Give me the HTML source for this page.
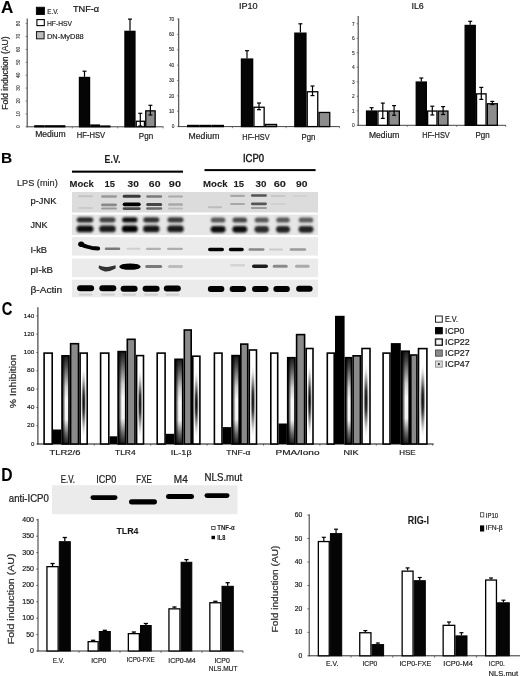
<!DOCTYPE html><html><head><meta charset="utf-8"><style>html,body{margin:0;padding:0;background:#fff;}svg{display:block;filter:grayscale(1);}text{font-family:"Liberation Sans",sans-serif;paint-order:stroke;stroke:currentColor;}</style></head><body>
<svg width="520" height="676" viewBox="0 0 520 676">
<defs>
<filter id="bl1" x="-30%" y="-100%" width="160%" height="300%"><feGaussianBlur stdDeviation="0.9"/></filter>
<filter id="bl2" x="-30%" y="-100%" width="160%" height="300%"><feGaussianBlur stdDeviation="1.3"/></filter>
<filter id="bl05" x="-30%" y="-100%" width="160%" height="300%"><feGaussianBlur stdDeviation="0.75"/></filter>
<radialGradient id="g22" cx="0.74" cy="0.57" r="0.6" fx="0.74" fy="0.57">
 <stop offset="0" stop-color="#ffffff"/><stop offset="0.38" stop-color="#f8f8f8"/><stop offset="0.72" stop-color="#7a7a7a"/><stop offset="0.9" stop-color="#2a2a2a"/><stop offset="1" stop-color="#0a0a0a"/></radialGradient>
<linearGradient id="g22v" x1="0" y1="0" x2="0" y2="1">
 <stop offset="0" stop-color="#1a1a1a"/><stop offset="0.12" stop-color="#505050"/><stop offset="0.35" stop-color="#d0d0d0"/><stop offset="0.5" stop-color="#fafafa"/><stop offset="0.72" stop-color="#f4f4f4"/><stop offset="0.88" stop-color="#6a6a6a"/><stop offset="1" stop-color="#1a1a1a"/></linearGradient>
<linearGradient id="g22h" x1="0" y1="0" x2="1" y2="0">
 <stop offset="0" stop-color="#000" stop-opacity="0.95"/><stop offset="0.2" stop-color="#000" stop-opacity="0.6"/><stop offset="0.5" stop-color="#000" stop-opacity="0.0"/><stop offset="1" stop-color="#000" stop-opacity="0"/></linearGradient>
<radialGradient id="g47" cx="0.5" cy="0.5" r="0.5">
 <stop offset="0" stop-color="#0a0a0a"/><stop offset="0.3" stop-color="#333"/><stop offset="0.65" stop-color="#aaa" stop-opacity="0.8"/><stop offset="1" stop-color="#ffffff" stop-opacity="0"/></radialGradient>
</defs>
<rect width="520" height="676" fill="#fff"/>
<text x="1" y="12.8" font-size="16" font-weight="bold" text-anchor="start" fill="#000" stroke="#000" stroke-width="0.08" textLength="12.3" lengthAdjust="spacingAndGlyphs" >A</text>
<line x1="27.20" y1="18.50" x2="27.20" y2="127.30" stroke="#444" stroke-width="1.1" />
<line x1="26.70" y1="126.80" x2="163.40" y2="126.80" stroke="#444" stroke-width="1.0" />
<line x1="25.60" y1="126.80" x2="27.20" y2="126.80" stroke="#555" stroke-width="0.7" />
<text x="18.9" y="126.8" font-size="4.6" font-weight="normal" text-anchor="middle" fill="#333" stroke="#333" stroke-width="0.101" transform="rotate(-90 18.9 126.8)" dominant-baseline="central">0</text>
<line x1="25.60" y1="113.90" x2="27.20" y2="113.90" stroke="#555" stroke-width="0.7" />
<text x="18.9" y="113.89999999999999" font-size="4.6" font-weight="normal" text-anchor="middle" fill="#333" stroke="#333" stroke-width="0.101" transform="rotate(-90 18.9 113.89999999999999)" dominant-baseline="central">10</text>
<line x1="25.60" y1="101.00" x2="27.20" y2="101.00" stroke="#555" stroke-width="0.7" />
<text x="18.9" y="101.0" font-size="4.6" font-weight="normal" text-anchor="middle" fill="#333" stroke="#333" stroke-width="0.101" transform="rotate(-90 18.9 101.0)" dominant-baseline="central">20</text>
<line x1="25.60" y1="88.10" x2="27.20" y2="88.10" stroke="#555" stroke-width="0.7" />
<text x="18.9" y="88.1" font-size="4.6" font-weight="normal" text-anchor="middle" fill="#333" stroke="#333" stroke-width="0.101" transform="rotate(-90 18.9 88.1)" dominant-baseline="central">30</text>
<line x1="25.60" y1="75.20" x2="27.20" y2="75.20" stroke="#555" stroke-width="0.7" />
<text x="18.9" y="75.19999999999999" font-size="4.6" font-weight="normal" text-anchor="middle" fill="#333" stroke="#333" stroke-width="0.101" transform="rotate(-90 18.9 75.19999999999999)" dominant-baseline="central">40</text>
<line x1="25.60" y1="62.30" x2="27.20" y2="62.30" stroke="#555" stroke-width="0.7" />
<text x="18.9" y="62.3" font-size="4.6" font-weight="normal" text-anchor="middle" fill="#333" stroke="#333" stroke-width="0.101" transform="rotate(-90 18.9 62.3)" dominant-baseline="central">50</text>
<line x1="25.60" y1="49.40" x2="27.20" y2="49.40" stroke="#555" stroke-width="0.7" />
<text x="18.9" y="49.39999999999999" font-size="4.6" font-weight="normal" text-anchor="middle" fill="#333" stroke="#333" stroke-width="0.101" transform="rotate(-90 18.9 49.39999999999999)" dominant-baseline="central">60</text>
<line x1="25.60" y1="36.50" x2="27.20" y2="36.50" stroke="#555" stroke-width="0.7" />
<text x="18.9" y="36.5" font-size="4.6" font-weight="normal" text-anchor="middle" fill="#333" stroke="#333" stroke-width="0.101" transform="rotate(-90 18.9 36.5)" dominant-baseline="central">70</text>
<line x1="25.60" y1="23.60" x2="27.20" y2="23.60" stroke="#555" stroke-width="0.7" />
<text x="18.9" y="23.599999999999994" font-size="4.6" font-weight="normal" text-anchor="middle" fill="#333" stroke="#333" stroke-width="0.101" transform="rotate(-90 18.9 23.599999999999994)" dominant-baseline="central">80</text>
<line x1="72.30" y1="126.80" x2="72.30" y2="128.40" stroke="#555" stroke-width="0.7" />
<line x1="117.70" y1="126.80" x2="117.70" y2="128.40" stroke="#555" stroke-width="0.7" />
<line x1="163.20" y1="126.80" x2="163.20" y2="128.40" stroke="#555" stroke-width="0.7" />
<rect x="34.85" y="125.85" width="9.10" height="0.95" fill="#050505" stroke="#000" stroke-width="1.3"/>
<rect x="45.25" y="125.85" width="9.10" height="0.95" fill="#050505" stroke="#000" stroke-width="1.3"/>
<rect x="55.65" y="125.85" width="9.10" height="0.95" fill="#050505" stroke="#000" stroke-width="1.3"/>
<rect x="79.45" y="77.45" width="10.10" height="49.35" fill="#050505" stroke="#000" stroke-width="1.3"/>
<line x1="84.50" y1="71.20" x2="84.50" y2="76.80" stroke="#000" stroke-width="1.2" />
<line x1="82.50" y1="71.20" x2="86.50" y2="71.20" stroke="#000" stroke-width="1.2" />
<rect x="90.85" y="125.05" width="8.60" height="1.75" fill="#050505" stroke="#000" stroke-width="1.3"/>
<rect x="100.75" y="126.05" width="9.10" height="0.75" fill="#050505" stroke="#000" stroke-width="1.3"/>
<rect x="124.95" y="31.35" width="10.00" height="95.45" fill="#050505" stroke="#000" stroke-width="1.3"/>
<line x1="130.00" y1="19.10" x2="130.00" y2="30.70" stroke="#000" stroke-width="1.2" />
<line x1="128.00" y1="19.10" x2="132.00" y2="19.10" stroke="#000" stroke-width="1.2" />
<rect x="136.25" y="121.25" width="8.20" height="5.55" fill="#ffffff" stroke="#000" stroke-width="1.3"/>
<line x1="140.30" y1="113.30" x2="140.30" y2="126.00" stroke="#000" stroke-width="1.2" />
<line x1="138.30" y1="113.30" x2="142.30" y2="113.30" stroke="#000" stroke-width="1.2" />
<line x1="138.30" y1="126.00" x2="142.30" y2="126.00" stroke="#000" stroke-width="1.2" />
<rect x="145.75" y="110.85" width="9.40" height="15.95" fill="#8c8c8c" stroke="#000" stroke-width="1.3"/>
<line x1="150.40" y1="105.30" x2="150.40" y2="115.00" stroke="#000" stroke-width="1.2" />
<line x1="148.40" y1="105.30" x2="152.40" y2="105.30" stroke="#000" stroke-width="1.2" />
<line x1="148.40" y1="115.00" x2="152.40" y2="115.00" stroke="#000" stroke-width="1.2" />
<text x="50.4" y="136.7" font-size="8.2" font-weight="normal" text-anchor="middle" fill="#222" stroke="#222" stroke-width="0.18" textLength="30.5" lengthAdjust="spacingAndGlyphs" >Medium</text>
<text x="90.9" y="137.5" font-size="8.2" font-weight="normal" text-anchor="middle" fill="#222" stroke="#222" stroke-width="0.18" textLength="28.3" lengthAdjust="spacingAndGlyphs" >HF-HSV</text>
<text x="146.0" y="138.8" font-size="8.2" font-weight="normal" text-anchor="middle" fill="#222" stroke="#222" stroke-width="0.18" textLength="14.3" lengthAdjust="spacingAndGlyphs" >Pgn</text>
<rect x="36.30" y="7.20" width="8.20" height="7.40" fill="#000" stroke="#000" stroke-width="0.8" />
<rect x="36.90" y="19.60" width="7.40" height="6.00" fill="#fff" stroke="#000" stroke-width="1.1" />
<rect x="36.50" y="31.60" width="7.60" height="7.20" fill="#bdbdbd" stroke="#222" stroke-width="1.1" />
<text x="47.3" y="14.4" font-size="7.8" font-weight="normal" text-anchor="start" fill="#222" stroke="#222" stroke-width="0.172" textLength="11.3" lengthAdjust="spacingAndGlyphs" >E.V.</text>
<text x="47.0" y="25.7" font-size="7.8" font-weight="normal" text-anchor="start" fill="#222" stroke="#222" stroke-width="0.172" textLength="25.0" lengthAdjust="spacingAndGlyphs" >HF-HSV</text>
<text x="47.0" y="38.5" font-size="7.8" font-weight="normal" text-anchor="start" fill="#222" stroke="#222" stroke-width="0.172" textLength="36.7" lengthAdjust="spacingAndGlyphs" >DN-MyD88</text>
<text x="72.9" y="11.8" font-size="8.2" font-weight="normal" text-anchor="start" fill="#111" stroke="#111" stroke-width="0.18" textLength="26.3" lengthAdjust="spacingAndGlyphs" >TNF-α</text>
<text x="7.6" y="73.1" font-size="8.6" font-weight="normal" text-anchor="middle" fill="#222" stroke="#222" stroke-width="0.189" textLength="73.5" lengthAdjust="spacingAndGlyphs" transform="rotate(-90 7.6 73.1)" >Fold induction (AU)</text>
<line x1="178.70" y1="18.50" x2="178.70" y2="127.10" stroke="#444" stroke-width="1.1" />
<line x1="178.20" y1="126.60" x2="339.70" y2="126.60" stroke="#444" stroke-width="1.0" />
<line x1="177.10" y1="126.60" x2="178.70" y2="126.60" stroke="#555" stroke-width="0.7" />
<text x="174.3" y="128.29999999999998" font-size="4.8" font-weight="normal" text-anchor="end" fill="#333" stroke="#333" stroke-width="0.106" >0</text>
<line x1="177.10" y1="111.23" x2="178.70" y2="111.23" stroke="#555" stroke-width="0.7" />
<text x="174.3" y="112.92999999999999" font-size="4.8" font-weight="normal" text-anchor="end" fill="#333" stroke="#333" stroke-width="0.106" >10</text>
<line x1="177.10" y1="95.86" x2="178.70" y2="95.86" stroke="#555" stroke-width="0.7" />
<text x="174.3" y="97.56" font-size="4.8" font-weight="normal" text-anchor="end" fill="#333" stroke="#333" stroke-width="0.106" >20</text>
<line x1="177.10" y1="80.49" x2="178.70" y2="80.49" stroke="#555" stroke-width="0.7" />
<text x="174.3" y="82.19" font-size="4.8" font-weight="normal" text-anchor="end" fill="#333" stroke="#333" stroke-width="0.106" >30</text>
<line x1="177.10" y1="65.12" x2="178.70" y2="65.12" stroke="#555" stroke-width="0.7" />
<text x="174.3" y="66.82000000000001" font-size="4.8" font-weight="normal" text-anchor="end" fill="#333" stroke="#333" stroke-width="0.106" >40</text>
<line x1="177.10" y1="49.75" x2="178.70" y2="49.75" stroke="#555" stroke-width="0.7" />
<text x="174.3" y="51.45" font-size="4.8" font-weight="normal" text-anchor="end" fill="#333" stroke="#333" stroke-width="0.106" >50</text>
<line x1="177.10" y1="34.38" x2="178.70" y2="34.38" stroke="#555" stroke-width="0.7" />
<text x="174.3" y="36.08" font-size="4.8" font-weight="normal" text-anchor="end" fill="#333" stroke="#333" stroke-width="0.106" >60</text>
<line x1="177.10" y1="19.01" x2="178.70" y2="19.01" stroke="#555" stroke-width="0.7" />
<text x="174.3" y="20.710000000000004" font-size="4.8" font-weight="normal" text-anchor="end" fill="#333" stroke="#333" stroke-width="0.106" >70</text>
<line x1="232.40" y1="126.60" x2="232.40" y2="128.20" stroke="#555" stroke-width="0.7" />
<line x1="286.00" y1="126.60" x2="286.00" y2="128.20" stroke="#555" stroke-width="0.7" />
<line x1="339.50" y1="126.60" x2="339.50" y2="128.20" stroke="#555" stroke-width="0.7" />
<rect x="187.65" y="125.45" width="11.00" height="1.15" fill="#050505" stroke="#000" stroke-width="1.3"/>
<rect x="199.95" y="125.45" width="11.00" height="1.15" fill="#050505" stroke="#000" stroke-width="1.3"/>
<rect x="212.25" y="125.45" width="11.10" height="1.15" fill="#050505" stroke="#000" stroke-width="1.3"/>
<rect x="241.45" y="59.05" width="11.20" height="67.55" fill="#050505" stroke="#000" stroke-width="1.3"/>
<line x1="247.00" y1="50.70" x2="247.00" y2="58.40" stroke="#000" stroke-width="1.2" />
<line x1="245.00" y1="50.70" x2="249.00" y2="50.70" stroke="#000" stroke-width="1.2" />
<rect x="253.95" y="107.25" width="10.20" height="19.35" fill="#ffffff" stroke="#000" stroke-width="1.3"/>
<line x1="259.00" y1="103.00" x2="259.00" y2="109.70" stroke="#000" stroke-width="1.2" />
<line x1="257.00" y1="103.00" x2="261.00" y2="103.00" stroke="#000" stroke-width="1.2" />
<line x1="257.00" y1="109.70" x2="261.00" y2="109.70" stroke="#000" stroke-width="1.2" />
<rect x="265.45" y="124.45" width="11.10" height="2.15" fill="#8c8c8c" stroke="#000" stroke-width="1.3"/>
<rect x="294.85" y="33.15" width="11.10" height="93.45" fill="#050505" stroke="#000" stroke-width="1.3"/>
<line x1="300.40" y1="23.80" x2="300.40" y2="32.50" stroke="#000" stroke-width="1.2" />
<line x1="298.40" y1="23.80" x2="302.40" y2="23.80" stroke="#000" stroke-width="1.2" />
<rect x="307.25" y="91.75" width="10.50" height="34.85" fill="#ffffff" stroke="#000" stroke-width="1.3"/>
<line x1="312.50" y1="86.00" x2="312.50" y2="95.60" stroke="#000" stroke-width="1.2" />
<line x1="310.50" y1="86.00" x2="314.50" y2="86.00" stroke="#000" stroke-width="1.2" />
<line x1="310.50" y1="95.60" x2="314.50" y2="95.60" stroke="#000" stroke-width="1.2" />
<rect x="319.05" y="112.45" width="10.70" height="14.15" fill="#8c8c8c" stroke="#000" stroke-width="1.3"/>
<text x="204.0" y="138.6" font-size="8.2" font-weight="normal" text-anchor="middle" fill="#222" stroke="#222" stroke-width="0.18" textLength="30.8" lengthAdjust="spacingAndGlyphs" >Medium</text>
<text x="256.0" y="139.6" font-size="8.2" font-weight="normal" text-anchor="middle" fill="#222" stroke="#222" stroke-width="0.18" textLength="27.3" lengthAdjust="spacingAndGlyphs" >HF-HSV</text>
<text x="308.5" y="139.8" font-size="8.2" font-weight="normal" text-anchor="middle" fill="#222" stroke="#222" stroke-width="0.18" textLength="13.9" lengthAdjust="spacingAndGlyphs" >Pgn</text>
<text x="238.9" y="9.1" font-size="8.5" font-weight="normal" text-anchor="start" fill="#222" stroke="#222" stroke-width="0.187" textLength="18.8" lengthAdjust="spacingAndGlyphs" >IP10</text>
<line x1="358.20" y1="16.10" x2="358.20" y2="125.80" stroke="#444" stroke-width="1.1" />
<line x1="357.70" y1="125.30" x2="505.90" y2="125.30" stroke="#444" stroke-width="1.0" />
<line x1="356.60" y1="125.30" x2="358.20" y2="125.30" stroke="#555" stroke-width="0.7" />
<text x="354.6" y="127.0" font-size="4.8" font-weight="normal" text-anchor="end" fill="#333" stroke="#333" stroke-width="0.106" >0</text>
<line x1="356.60" y1="110.80" x2="358.20" y2="110.80" stroke="#555" stroke-width="0.7" />
<text x="354.6" y="112.5" font-size="4.8" font-weight="normal" text-anchor="end" fill="#333" stroke="#333" stroke-width="0.106" >1</text>
<line x1="356.60" y1="96.30" x2="358.20" y2="96.30" stroke="#555" stroke-width="0.7" />
<text x="354.6" y="98.0" font-size="4.8" font-weight="normal" text-anchor="end" fill="#333" stroke="#333" stroke-width="0.106" >2</text>
<line x1="356.60" y1="81.80" x2="358.20" y2="81.80" stroke="#555" stroke-width="0.7" />
<text x="354.6" y="83.5" font-size="4.8" font-weight="normal" text-anchor="end" fill="#333" stroke="#333" stroke-width="0.106" >3</text>
<line x1="356.60" y1="67.30" x2="358.20" y2="67.30" stroke="#555" stroke-width="0.7" />
<text x="354.6" y="69.0" font-size="4.8" font-weight="normal" text-anchor="end" fill="#333" stroke="#333" stroke-width="0.106" >4</text>
<line x1="356.60" y1="52.80" x2="358.20" y2="52.80" stroke="#555" stroke-width="0.7" />
<text x="354.6" y="54.5" font-size="4.8" font-weight="normal" text-anchor="end" fill="#333" stroke="#333" stroke-width="0.106" >5</text>
<line x1="356.60" y1="38.30" x2="358.20" y2="38.30" stroke="#555" stroke-width="0.7" />
<text x="354.6" y="40.0" font-size="4.8" font-weight="normal" text-anchor="end" fill="#333" stroke="#333" stroke-width="0.106" >6</text>
<line x1="356.60" y1="23.80" x2="358.20" y2="23.80" stroke="#555" stroke-width="0.7" />
<text x="354.6" y="25.499999999999996" font-size="4.8" font-weight="normal" text-anchor="end" fill="#333" stroke="#333" stroke-width="0.106" >7</text>
<line x1="407.40" y1="125.30" x2="407.40" y2="126.90" stroke="#555" stroke-width="0.7" />
<line x1="456.60" y1="125.30" x2="456.60" y2="126.90" stroke="#555" stroke-width="0.7" />
<line x1="505.70" y1="125.30" x2="505.70" y2="126.90" stroke="#555" stroke-width="0.7" />
<rect x="366.55" y="111.05" width="10.10" height="14.25" fill="#050505" stroke="#000" stroke-width="1.3"/>
<line x1="371.60" y1="107.70" x2="371.60" y2="110.40" stroke="#000" stroke-width="1.2" />
<line x1="369.60" y1="107.70" x2="373.60" y2="107.70" stroke="#000" stroke-width="1.2" />
<rect x="377.95" y="111.05" width="9.60" height="14.25" fill="#ffffff" stroke="#000" stroke-width="1.3"/>
<line x1="382.80" y1="103.10" x2="382.80" y2="118.40" stroke="#000" stroke-width="1.2" />
<line x1="380.80" y1="103.10" x2="384.80" y2="103.10" stroke="#000" stroke-width="1.2" />
<line x1="380.80" y1="118.40" x2="384.80" y2="118.40" stroke="#000" stroke-width="1.2" />
<rect x="388.85" y="111.05" width="10.50" height="14.25" fill="#8c8c8c" stroke="#000" stroke-width="1.3"/>
<line x1="394.10" y1="105.60" x2="394.10" y2="115.30" stroke="#000" stroke-width="1.2" />
<line x1="392.10" y1="105.60" x2="396.10" y2="105.60" stroke="#000" stroke-width="1.2" />
<line x1="392.10" y1="115.30" x2="396.10" y2="115.30" stroke="#000" stroke-width="1.2" />
<rect x="416.25" y="82.05" width="10.10" height="43.25" fill="#050505" stroke="#000" stroke-width="1.3"/>
<line x1="421.30" y1="78.00" x2="421.30" y2="81.40" stroke="#000" stroke-width="1.2" />
<line x1="419.30" y1="78.00" x2="423.30" y2="78.00" stroke="#000" stroke-width="1.2" />
<rect x="427.65" y="111.05" width="9.30" height="14.25" fill="#ffffff" stroke="#000" stroke-width="1.3"/>
<line x1="432.30" y1="106.20" x2="432.30" y2="115.00" stroke="#000" stroke-width="1.2" />
<line x1="430.30" y1="106.20" x2="434.30" y2="106.20" stroke="#000" stroke-width="1.2" />
<line x1="430.30" y1="115.00" x2="434.30" y2="115.00" stroke="#000" stroke-width="1.2" />
<rect x="438.25" y="111.05" width="9.70" height="14.25" fill="#8c8c8c" stroke="#000" stroke-width="1.3"/>
<line x1="443.10" y1="106.60" x2="443.10" y2="114.50" stroke="#000" stroke-width="1.2" />
<line x1="441.10" y1="106.60" x2="445.10" y2="106.60" stroke="#000" stroke-width="1.2" />
<line x1="441.10" y1="114.50" x2="445.10" y2="114.50" stroke="#000" stroke-width="1.2" />
<rect x="465.15" y="25.45" width="10.10" height="99.85" fill="#050505" stroke="#000" stroke-width="1.3"/>
<line x1="470.20" y1="21.30" x2="470.20" y2="24.80" stroke="#000" stroke-width="1.2" />
<line x1="468.20" y1="21.30" x2="472.20" y2="21.30" stroke="#000" stroke-width="1.2" />
<rect x="476.55" y="93.85" width="9.50" height="31.45" fill="#ffffff" stroke="#000" stroke-width="1.3"/>
<line x1="481.30" y1="87.40" x2="481.30" y2="99.40" stroke="#000" stroke-width="1.2" />
<line x1="479.30" y1="87.40" x2="483.30" y2="87.40" stroke="#000" stroke-width="1.2" />
<line x1="479.30" y1="99.40" x2="483.30" y2="99.40" stroke="#000" stroke-width="1.2" />
<rect x="487.35" y="103.75" width="10.00" height="21.55" fill="#8c8c8c" stroke="#000" stroke-width="1.3"/>
<line x1="492.30" y1="101.40" x2="492.30" y2="104.60" stroke="#000" stroke-width="1.2" />
<line x1="490.30" y1="101.40" x2="494.30" y2="101.40" stroke="#000" stroke-width="1.2" />
<line x1="490.30" y1="104.60" x2="494.30" y2="104.60" stroke="#000" stroke-width="1.2" />
<text x="384.2" y="138.2" font-size="8.6" font-weight="normal" text-anchor="middle" fill="#222" stroke="#222" stroke-width="0.189" textLength="30.4" lengthAdjust="spacingAndGlyphs" >Medium</text>
<text x="436.0" y="138.2" font-size="8.6" font-weight="normal" text-anchor="middle" fill="#222" stroke="#222" stroke-width="0.189" textLength="27.5" lengthAdjust="spacingAndGlyphs" >HF-HSV</text>
<text x="482.5" y="138.4" font-size="8.6" font-weight="normal" text-anchor="middle" fill="#222" stroke="#222" stroke-width="0.189" textLength="14.2" lengthAdjust="spacingAndGlyphs" >Pgn</text>
<text x="411.5" y="8.8" font-size="8.4" font-weight="normal" text-anchor="start" fill="#222" stroke="#222" stroke-width="0.185" textLength="12.3" lengthAdjust="spacingAndGlyphs" >IL6</text>
<text x="1" y="162.7" font-size="14" font-weight="bold" text-anchor="start" fill="#000" stroke="#000" stroke-width="0.08" textLength="11.2" lengthAdjust="spacingAndGlyphs" >B</text>
<text x="104.6" y="162.9" font-size="10.2" font-weight="bold" text-anchor="start" fill="#1a1a1a" stroke="#1a1a1a" stroke-width="0.08" textLength="15.8" lengthAdjust="spacingAndGlyphs" >E.V.</text>
<text x="242.9" y="161.8" font-size="10.2" font-weight="normal" text-anchor="start" fill="#1a1a1a" stroke="#1a1a1a" stroke-width="0.224" textLength="21.1" lengthAdjust="spacingAndGlyphs" style="stroke-width:0.4px">ICP0</text>
<rect x="72.00" y="170.60" width="111.00" height="2.10" fill="#000" />
<rect x="204.50" y="169.10" width="111.10" height="2.00" fill="#000" />
<text x="17.0" y="186.2" font-size="8.2" font-weight="normal" text-anchor="start" fill="#333" stroke="#333" stroke-width="0.18" textLength="40.7" lengthAdjust="spacingAndGlyphs" >LPS (min)</text>
<text x="69.6" y="187.0" font-size="8.8" font-weight="bold" text-anchor="start" fill="#1a1a1a" stroke="#1a1a1a" stroke-width="0.08" textLength="24.2" lengthAdjust="spacingAndGlyphs" >Mock</text>
<text x="104.5" y="187.0" font-size="8.8" font-weight="bold" text-anchor="start" fill="#1a1a1a" stroke="#1a1a1a" stroke-width="0.08" textLength="10.5" lengthAdjust="spacingAndGlyphs" >15</text>
<text x="127.5" y="187.0" font-size="8.8" font-weight="bold" text-anchor="start" fill="#1a1a1a" stroke="#1a1a1a" stroke-width="0.08" textLength="11.3" lengthAdjust="spacingAndGlyphs" >30</text>
<text x="148.8" y="187.0" font-size="8.8" font-weight="bold" text-anchor="start" fill="#1a1a1a" stroke="#1a1a1a" stroke-width="0.08" textLength="11.7" lengthAdjust="spacingAndGlyphs" >60</text>
<text x="168.8" y="187.0" font-size="8.8" font-weight="bold" text-anchor="start" fill="#1a1a1a" stroke="#1a1a1a" stroke-width="0.08" textLength="12.2" lengthAdjust="spacingAndGlyphs" >90</text>
<text x="203.0" y="187.0" font-size="8.8" font-weight="bold" text-anchor="start" fill="#1a1a1a" stroke="#1a1a1a" stroke-width="0.08" textLength="24.6" lengthAdjust="spacingAndGlyphs" >Mock</text>
<text x="233.4" y="187.0" font-size="8.8" font-weight="bold" text-anchor="start" fill="#1a1a1a" stroke="#1a1a1a" stroke-width="0.08" textLength="10.6" lengthAdjust="spacingAndGlyphs" >15</text>
<text x="255.6" y="187.0" font-size="8.8" font-weight="bold" text-anchor="start" fill="#1a1a1a" stroke="#1a1a1a" stroke-width="0.08" textLength="10.9" lengthAdjust="spacingAndGlyphs" >30</text>
<text x="273.7" y="187.0" font-size="8.8" font-weight="bold" text-anchor="start" fill="#1a1a1a" stroke="#1a1a1a" stroke-width="0.08" textLength="12.3" lengthAdjust="spacingAndGlyphs" >60</text>
<text x="296.0" y="187.0" font-size="8.8" font-weight="bold" text-anchor="start" fill="#1a1a1a" stroke="#1a1a1a" stroke-width="0.08" textLength="11.5" lengthAdjust="spacingAndGlyphs" >90</text>
<text x="30.5" y="204.3" font-size="8.8" font-weight="normal" text-anchor="start" fill="#222" stroke="#222" stroke-width="0.194" textLength="25.9" lengthAdjust="spacingAndGlyphs" >p-JNK</text>
<text x="30.5" y="227.7" font-size="8.8" font-weight="normal" text-anchor="start" fill="#222" stroke="#222" stroke-width="0.194" textLength="17.0" lengthAdjust="spacingAndGlyphs" >JNK</text>
<text x="30.5" y="252.9" font-size="8.8" font-weight="normal" text-anchor="start" fill="#222" stroke="#222" stroke-width="0.194" textLength="16.5" lengthAdjust="spacingAndGlyphs" >I-kB</text>
<text x="30.5" y="273.4" font-size="8.8" font-weight="normal" text-anchor="start" fill="#222" stroke="#222" stroke-width="0.194" textLength="22.4" lengthAdjust="spacingAndGlyphs" >pI-kB</text>
<text x="30.5" y="293.3" font-size="8.8" font-weight="normal" text-anchor="start" fill="#222" stroke="#222" stroke-width="0.194" textLength="31.6" lengthAdjust="spacingAndGlyphs" >β-Actin</text>
<rect x="72.00" y="192.00" width="246.00" height="20.50" fill="#dcdcdc" />
<rect x="72.00" y="214.60" width="246.00" height="20.40" fill="#e6e6e6" />
<rect x="72.00" y="237.20" width="246.00" height="18.40" fill="#ebebeb" />
<rect x="72.00" y="258.60" width="246.00" height="18.60" fill="#ebebeb" />
<rect x="72.00" y="279.60" width="246.00" height="17.60" fill="#ebebeb" />
<rect x="78.00" y="195.30" width="15.00" height="2.00" rx="1.00" fill="#c4c4c4" filter="url(#bl05)"/>
<rect x="78.00" y="207.00" width="15.00" height="2.00" rx="1.00" fill="#cacaca" filter="url(#bl05)"/>
<rect x="101.00" y="195.30" width="16.00" height="2.40" rx="1.20" fill="#9a9a9a" filter="url(#bl05)"/>
<rect x="101.00" y="203.40" width="16.00" height="2.80" rx="1.40" fill="#8a8a8a" filter="url(#bl05)"/>
<rect x="101.00" y="207.40" width="16.00" height="2.20" rx="1.10" fill="#9a9a9a" filter="url(#bl05)"/>
<rect x="122.70" y="194.80" width="18.00" height="3.00" rx="1.50" fill="#3a3a3a" filter="url(#bl05)"/>
<rect x="122.70" y="202.40" width="18.00" height="3.80" rx="1.90" fill="#000000" filter="url(#bl05)"/>
<rect x="122.70" y="207.30" width="18.00" height="2.60" rx="1.30" fill="#4a4a4a" filter="url(#bl05)"/>
<rect x="146.20" y="195.20" width="16.00" height="2.60" rx="1.30" fill="#7a7a7a" filter="url(#bl05)"/>
<rect x="146.20" y="203.00" width="16.00" height="3.00" rx="1.50" fill="#444444" filter="url(#bl05)"/>
<rect x="146.20" y="207.30" width="16.00" height="2.40" rx="1.20" fill="#6a6a6a" filter="url(#bl05)"/>
<rect x="168.00" y="195.40" width="15.00" height="2.20" rx="1.10" fill="#aaaaaa" filter="url(#bl05)"/>
<rect x="168.00" y="203.30" width="15.00" height="2.40" rx="1.20" fill="#a8a8a8" filter="url(#bl05)"/>
<rect x="168.00" y="207.50" width="15.00" height="2.00" rx="1.00" fill="#bbbbbb" filter="url(#bl05)"/>
<rect x="208.00" y="206.30" width="14.00" height="2.00" rx="1.00" fill="#bcbcbc" filter="url(#bl05)"/>
<rect x="230.00" y="194.70" width="15.00" height="2.20" rx="1.10" fill="#a8a8a8" filter="url(#bl05)"/>
<rect x="230.00" y="202.90" width="15.00" height="2.20" rx="1.10" fill="#a8a8a8" filter="url(#bl05)"/>
<rect x="250.90" y="194.20" width="16.00" height="2.60" rx="1.30" fill="#555555" filter="url(#bl05)"/>
<rect x="250.90" y="202.40" width="16.00" height="2.80" rx="1.40" fill="#555555" filter="url(#bl05)"/>
<rect x="250.90" y="207.00" width="16.00" height="2.00" rx="1.00" fill="#9a9a9a" filter="url(#bl05)"/>
<rect x="270.50" y="195.00" width="15.00" height="2.00" rx="1.00" fill="#c8c8c8" filter="url(#bl05)"/>
<rect x="270.50" y="203.00" width="15.00" height="2.00" rx="1.00" fill="#d0d0d0" filter="url(#bl05)"/>
<rect x="292.50" y="195.00" width="15.00" height="2.00" rx="1.00" fill="#d2d2d2" filter="url(#bl05)"/>
<rect x="76.75" y="217.20" width="16.50" height="5.20" rx="2.60" fill="#262626" filter="url(#bl1)"/>
<rect x="76.50" y="225.50" width="17.00" height="6.80" rx="3.40" fill="#101010" filter="url(#bl1)"/>
<rect x="99.50" y="217.20" width="16.00" height="5.20" rx="2.60" fill="#404040" filter="url(#bl1)"/>
<rect x="99.25" y="225.50" width="16.50" height="6.80" rx="3.40" fill="#1c1c1c" filter="url(#bl1)"/>
<rect x="122.05" y="217.20" width="15.50" height="5.20" rx="2.60" fill="#101010" filter="url(#bl1)"/>
<rect x="121.80" y="225.50" width="16.00" height="6.80" rx="3.40" fill="#030303" filter="url(#bl1)"/>
<rect x="143.30" y="217.20" width="16.00" height="5.20" rx="2.60" fill="#2e2e2e" filter="url(#bl1)"/>
<rect x="143.05" y="225.50" width="16.50" height="6.80" rx="3.40" fill="#151515" filter="url(#bl1)"/>
<rect x="167.50" y="217.20" width="16.00" height="5.20" rx="2.60" fill="#383838" filter="url(#bl1)"/>
<rect x="167.25" y="225.50" width="16.50" height="6.80" rx="3.40" fill="#1c1c1c" filter="url(#bl1)"/>
<rect x="210.85" y="217.40" width="14.50" height="5.20" rx="2.60" fill="#555" filter="url(#bl1)"/>
<rect x="210.60" y="225.90" width="15.00" height="6.80" rx="3.40" fill="#111" filter="url(#bl1)"/>
<rect x="232.55" y="217.40" width="14.50" height="5.20" rx="2.60" fill="#444" filter="url(#bl1)"/>
<rect x="232.30" y="225.90" width="15.00" height="6.80" rx="3.40" fill="#111" filter="url(#bl1)"/>
<rect x="254.70" y="217.40" width="14.00" height="5.20" rx="2.60" fill="#555" filter="url(#bl1)"/>
<rect x="254.45" y="225.90" width="14.50" height="6.80" rx="3.40" fill="#2a2a2a" filter="url(#bl1)"/>
<rect x="276.25" y="217.40" width="13.50" height="5.20" rx="2.60" fill="#555" filter="url(#bl1)"/>
<rect x="276.00" y="225.90" width="14.00" height="6.80" rx="3.40" fill="#222" filter="url(#bl1)"/>
<rect x="298.75" y="217.40" width="14.50" height="5.20" rx="2.60" fill="#5a5a5a" filter="url(#bl1)"/>
<rect x="298.50" y="225.90" width="15.00" height="6.80" rx="3.40" fill="#222" filter="url(#bl1)"/>
<g filter="url(#bl05)"><path d="M80.6,244.4 Q86,246.9 92,247.9 L98.2,248.5" fill="none" stroke="#000" stroke-width="4.0" stroke-linecap="round"/><ellipse cx="81.2" cy="244.3" rx="3.0" ry="2.7" fill="#000"/></g>
<rect x="104.75" y="247.50" width="15.50" height="2.60" rx="1.30" fill="#7a7a7a" filter="url(#bl05)"/>
<rect x="126.50" y="247.80" width="14.00" height="2.00" rx="1.00" fill="#cfcfcf" filter="url(#bl05)"/>
<rect x="146.00" y="247.70" width="15.00" height="2.20" rx="1.10" fill="#b0b0b0" filter="url(#bl05)"/>
<rect x="167.00" y="247.70" width="16.00" height="2.20" rx="1.10" fill="#adadad" filter="url(#bl05)"/>
<rect x="208.00" y="247.70" width="16.00" height="3.60" rx="1.80" fill="#000" filter="url(#bl05)"/>
<rect x="228.80" y="247.70" width="15.00" height="3.60" rx="1.80" fill="#000" filter="url(#bl05)"/>
<rect x="248.50" y="248.20" width="16.00" height="2.60" rx="1.30" fill="#888" filter="url(#bl05)"/>
<rect x="269.00" y="248.50" width="14.00" height="2.00" rx="1.00" fill="#cacaca" filter="url(#bl05)"/>
<rect x="289.65" y="248.30" width="16.50" height="2.40" rx="1.20" fill="#9a9a9a" filter="url(#bl05)"/>
<path d="M99,265.6 Q104,267.6 109,266.8 Q113,265.8 115.6,265.2 L115.6,268.6 Q110,271.8 105,271.4 Q100.5,270.6 98.6,268.0 Z" fill="#303030" filter="url(#bl05)"/>
<ellipse cx="130.00" cy="266.70" rx="10.75" ry="3.10" fill="#000" filter="url(#bl05)"/>
<rect x="120.75" y="264.30" width="18.50" height="4.80" rx="2.40" fill="#000" filter="url(#bl05)"/>
<rect x="145.20" y="265.10" width="17.00" height="3.00" rx="1.50" fill="#7a7a7a" filter="url(#bl05)"/>
<rect x="168.00" y="265.10" width="15.00" height="3.00" rx="1.50" fill="#bcbcbc" filter="url(#bl05)"/>
<rect x="230.00" y="264.00" width="15.00" height="2.40" rx="1.20" fill="#d4d4d4" filter="url(#bl05)"/>
<rect x="252.00" y="264.40" width="16.00" height="3.60" rx="1.80" fill="#1e1e1e" filter="url(#bl05)"/>
<rect x="272.70" y="264.70" width="15.00" height="3.00" rx="1.50" fill="#8a8a8a" filter="url(#bl05)"/>
<rect x="295.00" y="264.70" width="14.60" height="3.00" rx="1.50" fill="#aaaaaa" filter="url(#bl05)"/>
<rect x="78.60" y="293.50" width="14.00" height="2.20" rx="1.10" fill="#d2d2d2" filter="url(#bl05)"/>
<rect x="77.10" y="285.20" width="17.00" height="6.00" rx="3.00" fill="#000" filter="url(#bl05)"/>
<rect x="100.80" y="293.50" width="14.00" height="2.20" rx="1.10" fill="#d2d2d2" filter="url(#bl05)"/>
<rect x="99.30" y="285.30" width="17.00" height="6.00" rx="3.00" fill="#000" filter="url(#bl05)"/>
<rect x="122.10" y="293.50" width="14.00" height="2.20" rx="1.10" fill="#d2d2d2" filter="url(#bl05)"/>
<rect x="120.60" y="285.80" width="17.00" height="6.00" rx="3.00" fill="#000" filter="url(#bl05)"/>
<rect x="144.10" y="293.50" width="14.00" height="2.20" rx="1.10" fill="#d2d2d2" filter="url(#bl05)"/>
<rect x="142.60" y="285.80" width="17.00" height="6.00" rx="3.00" fill="#000" filter="url(#bl05)"/>
<rect x="165.30" y="293.50" width="14.00" height="2.20" rx="1.10" fill="#d2d2d2" filter="url(#bl05)"/>
<rect x="163.80" y="285.60" width="17.00" height="6.00" rx="3.00" fill="#000" filter="url(#bl05)"/>
<rect x="207.85" y="286.00" width="16.50" height="6.00" rx="3.00" fill="#000" filter="url(#bl05)"/>
<rect x="229.65" y="286.00" width="16.50" height="6.00" rx="3.00" fill="#000" filter="url(#bl05)"/>
<rect x="252.05" y="286.00" width="16.50" height="6.00" rx="3.00" fill="#000" filter="url(#bl05)"/>
<rect x="273.35" y="286.00" width="16.50" height="6.00" rx="3.00" fill="#000" filter="url(#bl05)"/>
<rect x="296.15" y="285.80" width="16.50" height="6.00" rx="3.00" fill="#000" filter="url(#bl05)"/>
<text x="1.8" y="315.2" font-size="17.5" font-weight="bold" text-anchor="start" fill="#000" stroke="#000" stroke-width="0.08" textLength="10.6" lengthAdjust="spacingAndGlyphs" >C</text>
<line x1="37.90" y1="307.30" x2="37.90" y2="444.50" stroke="#333" stroke-width="1.1" />
<line x1="37.40" y1="444.00" x2="433.60" y2="444.00" stroke="#111" stroke-width="1.0" />
<line x1="36.30" y1="444.00" x2="37.90" y2="444.00" stroke="#333" stroke-width="0.7" />
<text x="34.4" y="445.6" font-size="6.2" font-weight="normal" text-anchor="end" fill="#111" stroke="#111" stroke-width="0.136" textLength="3.4" lengthAdjust="spacingAndGlyphs" >0</text>
<line x1="36.30" y1="425.70" x2="37.90" y2="425.70" stroke="#333" stroke-width="0.7" />
<text x="34.4" y="427.3" font-size="6.2" font-weight="normal" text-anchor="end" fill="#111" stroke="#111" stroke-width="0.136" textLength="7.4" lengthAdjust="spacingAndGlyphs" >20</text>
<line x1="36.30" y1="407.40" x2="37.90" y2="407.40" stroke="#333" stroke-width="0.7" />
<text x="34.4" y="409.0" font-size="6.2" font-weight="normal" text-anchor="end" fill="#111" stroke="#111" stroke-width="0.136" textLength="7.4" lengthAdjust="spacingAndGlyphs" >40</text>
<line x1="36.30" y1="389.10" x2="37.90" y2="389.10" stroke="#333" stroke-width="0.7" />
<text x="34.4" y="390.70000000000005" font-size="6.2" font-weight="normal" text-anchor="end" fill="#111" stroke="#111" stroke-width="0.136" textLength="7.4" lengthAdjust="spacingAndGlyphs" >60</text>
<line x1="36.30" y1="370.80" x2="37.90" y2="370.80" stroke="#333" stroke-width="0.7" />
<text x="34.4" y="372.40000000000003" font-size="6.2" font-weight="normal" text-anchor="end" fill="#111" stroke="#111" stroke-width="0.136" textLength="7.4" lengthAdjust="spacingAndGlyphs" >80</text>
<line x1="36.30" y1="352.50" x2="37.90" y2="352.50" stroke="#333" stroke-width="0.7" />
<text x="34.4" y="354.1" font-size="6.2" font-weight="normal" text-anchor="end" fill="#111" stroke="#111" stroke-width="0.136" textLength="10.6" lengthAdjust="spacingAndGlyphs" >100</text>
<line x1="36.30" y1="334.20" x2="37.90" y2="334.20" stroke="#333" stroke-width="0.7" />
<text x="34.4" y="335.8" font-size="6.2" font-weight="normal" text-anchor="end" fill="#111" stroke="#111" stroke-width="0.136" textLength="10.6" lengthAdjust="spacingAndGlyphs" >120</text>
<line x1="36.30" y1="315.90" x2="37.90" y2="315.90" stroke="#333" stroke-width="0.7" />
<text x="34.4" y="317.5" font-size="6.2" font-weight="normal" text-anchor="end" fill="#111" stroke="#111" stroke-width="0.136" textLength="10.6" lengthAdjust="spacingAndGlyphs" >140</text>
<line x1="94.30" y1="444.00" x2="94.30" y2="445.60" stroke="#333" stroke-width="0.7" />
<line x1="150.70" y1="444.00" x2="150.70" y2="445.60" stroke="#333" stroke-width="0.7" />
<line x1="207.10" y1="444.00" x2="207.10" y2="445.60" stroke="#333" stroke-width="0.7" />
<line x1="263.50" y1="444.00" x2="263.50" y2="445.60" stroke="#333" stroke-width="0.7" />
<line x1="319.90" y1="444.00" x2="319.90" y2="445.60" stroke="#333" stroke-width="0.7" />
<line x1="376.30" y1="444.00" x2="376.30" y2="445.60" stroke="#333" stroke-width="0.7" />
<line x1="432.70" y1="444.00" x2="432.70" y2="445.60" stroke="#333" stroke-width="0.7" />
<text x="15.6" y="381.3" font-size="9.8" font-weight="normal" text-anchor="middle" fill="#333" stroke="#333" stroke-width="0.216" textLength="53.9" lengthAdjust="spacingAndGlyphs" transform="rotate(-90 15.6 381.3)" >% Inhibition</text>
<rect x="44.10" y="353.10" width="8.10" height="90.90" fill="#fff" stroke="#000" stroke-width="1.6"/>
<rect x="53.00" y="429.50" width="8.20" height="14.50" fill="#000"/>
<rect x="62.00" y="355.80" width="7.00" height="88.20" fill="url(#g22v)"/>
<rect x="62.00" y="355.80" width="7.00" height="88.20" fill="url(#g22h)" stroke="#000" stroke-width="1.6"/>
<rect x="70.60" y="343.70" width="7.90" height="100.30" fill="#8a8a8a" stroke="#000" stroke-width="1.6"/>
<rect x="80.10" y="353.10" width="7.10" height="90.90" fill="#fff" stroke="#000" stroke-width="1.6"/>
<ellipse cx="83.65" cy="402.74" rx="2.96" ry="36.68" fill="url(#g47)"/>
<rect x="100.60" y="353.10" width="8.20" height="90.90" fill="#fff" stroke="#000" stroke-width="1.6"/>
<rect x="109.60" y="436.30" width="7.70" height="7.70" fill="#000"/>
<rect x="118.10" y="351.60" width="7.60" height="92.40" fill="url(#g22v)"/>
<rect x="118.10" y="351.60" width="7.60" height="92.40" fill="url(#g22h)" stroke="#000" stroke-width="1.6"/>
<rect x="127.30" y="339.30" width="7.70" height="104.70" fill="#8a8a8a" stroke="#000" stroke-width="1.6"/>
<rect x="136.60" y="355.60" width="6.90" height="88.40" fill="#fff" stroke="#000" stroke-width="1.6"/>
<ellipse cx="140.05" cy="403.86" rx="2.89" ry="35.68" fill="url(#g47)"/>
<rect x="157.20" y="353.10" width="7.90" height="90.90" fill="#fff" stroke="#000" stroke-width="1.6"/>
<rect x="165.90" y="433.80" width="8.30" height="10.20" fill="#000"/>
<rect x="175.00" y="359.30" width="7.70" height="84.70" fill="url(#g22v)"/>
<rect x="175.00" y="359.30" width="7.70" height="84.70" fill="url(#g22h)" stroke="#000" stroke-width="1.6"/>
<rect x="184.30" y="330.00" width="6.90" height="114.00" fill="#8a8a8a" stroke="#000" stroke-width="1.6"/>
<rect x="192.80" y="356.20" width="7.10" height="87.80" fill="#fff" stroke="#000" stroke-width="1.6"/>
<ellipse cx="196.35" cy="404.13" rx="2.96" ry="35.44" fill="url(#g47)"/>
<rect x="214.40" y="353.10" width="7.60" height="90.90" fill="#fff" stroke="#000" stroke-width="1.6"/>
<rect x="222.80" y="427.10" width="8.40" height="16.90" fill="#000"/>
<rect x="232.00" y="355.60" width="7.20" height="88.40" fill="url(#g22v)"/>
<rect x="232.00" y="355.60" width="7.20" height="88.40" fill="url(#g22h)" stroke="#000" stroke-width="1.6"/>
<rect x="240.80" y="344.10" width="6.90" height="99.90" fill="#8a8a8a" stroke="#000" stroke-width="1.6"/>
<rect x="249.30" y="350.00" width="7.20" height="94.00" fill="#fff" stroke="#000" stroke-width="1.6"/>
<ellipse cx="252.90" cy="401.34" rx="2.99" ry="37.92" fill="url(#g47)"/>
<rect x="270.80" y="353.10" width="6.90" height="90.90" fill="#fff" stroke="#000" stroke-width="1.6"/>
<rect x="278.50" y="423.50" width="8.40" height="20.50" fill="#000"/>
<rect x="287.70" y="357.70" width="7.30" height="86.30" fill="url(#g22v)"/>
<rect x="287.70" y="357.70" width="7.30" height="86.30" fill="url(#g22h)" stroke="#000" stroke-width="1.6"/>
<rect x="296.60" y="334.60" width="8.00" height="109.40" fill="#8a8a8a" stroke="#000" stroke-width="1.6"/>
<rect x="306.20" y="348.50" width="6.80" height="95.50" fill="#fff" stroke="#000" stroke-width="1.6"/>
<ellipse cx="309.60" cy="400.67" rx="2.86" ry="38.52" fill="url(#g47)"/>
<rect x="327.30" y="353.10" width="6.90" height="90.90" fill="#fff" stroke="#000" stroke-width="1.6"/>
<rect x="335.00" y="315.80" width="9.60" height="128.20" fill="#000"/>
<rect x="345.40" y="357.70" width="6.10" height="86.30" fill="url(#g22v)"/>
<rect x="345.40" y="357.70" width="6.10" height="86.30" fill="url(#g22h)" stroke="#000" stroke-width="1.6"/>
<rect x="353.10" y="355.80" width="7.30" height="88.20" fill="#8a8a8a" stroke="#000" stroke-width="1.6"/>
<rect x="362.00" y="348.50" width="8.00" height="95.50" fill="#fff" stroke="#000" stroke-width="1.6"/>
<ellipse cx="366.00" cy="400.67" rx="3.26" ry="38.52" fill="url(#g47)"/>
<rect x="383.10" y="353.10" width="6.90" height="90.90" fill="#fff" stroke="#000" stroke-width="1.6"/>
<rect x="390.80" y="343.10" width="10.00" height="100.90" fill="#000"/>
<rect x="401.60" y="351.20" width="7.60" height="92.80" fill="url(#g22v)"/>
<rect x="401.60" y="351.20" width="7.60" height="92.80" fill="url(#g22h)" stroke="#000" stroke-width="1.6"/>
<rect x="410.80" y="355.00" width="6.10" height="89.00" fill="#8a8a8a" stroke="#000" stroke-width="1.6"/>
<rect x="418.50" y="348.60" width="8.40" height="95.40" fill="#fff" stroke="#000" stroke-width="1.6"/>
<ellipse cx="422.70" cy="400.71" rx="3.40" ry="38.48" fill="url(#g47)"/>
<text x="65.0" y="454.7" font-size="7.2" font-weight="normal" text-anchor="middle" fill="#1a1a1a" stroke="#1a1a1a" stroke-width="0.158" textLength="30.8" lengthAdjust="spacingAndGlyphs" >TLR2/6</text>
<text x="125.3" y="454.7" font-size="7.2" font-weight="normal" text-anchor="middle" fill="#1a1a1a" stroke="#1a1a1a" stroke-width="0.158" textLength="20.6" lengthAdjust="spacingAndGlyphs" >TLR4</text>
<text x="181.2" y="454.7" font-size="7.2" font-weight="normal" text-anchor="middle" fill="#1a1a1a" stroke="#1a1a1a" stroke-width="0.158" textLength="21.1" lengthAdjust="spacingAndGlyphs" >IL-1β</text>
<text x="238.4" y="454.7" font-size="7.2" font-weight="normal" text-anchor="middle" fill="#1a1a1a" stroke="#1a1a1a" stroke-width="0.158" textLength="24.1" lengthAdjust="spacingAndGlyphs" >TNF-α</text>
<text x="297.5" y="454.7" font-size="7.2" font-weight="normal" text-anchor="middle" fill="#1a1a1a" stroke="#1a1a1a" stroke-width="0.158" textLength="44.0" lengthAdjust="spacingAndGlyphs" >PMA/Iono</text>
<text x="351.0" y="454.7" font-size="7.2" font-weight="normal" text-anchor="middle" fill="#1a1a1a" stroke="#1a1a1a" stroke-width="0.158" textLength="15.0" lengthAdjust="spacingAndGlyphs" >NIK</text>
<text x="407.4" y="454.7" font-size="7.2" font-weight="normal" text-anchor="middle" fill="#1a1a1a" stroke="#1a1a1a" stroke-width="0.158" textLength="16.4" lengthAdjust="spacingAndGlyphs" >HSE</text>
<rect x="435.50" y="316.00" width="6.80" height="6.20" fill="#fff" stroke="#222" stroke-width="1.0" />
<text x="445.0" y="322.4" font-size="8.6" font-weight="normal" text-anchor="start" fill="#222" stroke="#222" stroke-width="0.189" textLength="13.0" lengthAdjust="spacingAndGlyphs" >E.V.</text>
<rect x="435.50" y="327.60" width="6.80" height="6.20" fill="#000" stroke="#000" stroke-width="1.0" />
<text x="445.0" y="334.0" font-size="8.6" font-weight="normal" text-anchor="start" fill="#222" stroke="#222" stroke-width="0.189" textLength="19.4" lengthAdjust="spacingAndGlyphs" >ICP0</text>
<rect x="435.50" y="339.00" width="6.80" height="6.20" fill="#f4f4f4" stroke="#222" stroke-width="1.4" />
<text x="445.0" y="345.4" font-size="8.6" font-weight="normal" text-anchor="start" fill="#222" stroke="#222" stroke-width="0.189" textLength="24.8" lengthAdjust="spacingAndGlyphs" >ICP22</text>
<rect x="435.50" y="350.00" width="6.80" height="6.20" fill="#8a8a8a" stroke="#555" stroke-width="1.0" />
<text x="445.0" y="356.4" font-size="8.6" font-weight="normal" text-anchor="start" fill="#222" stroke="#222" stroke-width="0.189" textLength="24.8" lengthAdjust="spacingAndGlyphs" >ICP27</text>
<rect x="435.50" y="361.00" width="6.80" height="6.20" fill="#d8d8d8" stroke="#999" stroke-width="1.0" />
<rect x="438.00" y="363.20" width="1.80" height="1.80" fill="#222" />
<text x="445.0" y="367.4" font-size="8.6" font-weight="normal" text-anchor="start" fill="#222" stroke="#222" stroke-width="0.189" textLength="24.8" lengthAdjust="spacingAndGlyphs" >ICP47</text>
<text x="1.2" y="481.4" font-size="18" font-weight="bold" text-anchor="start" fill="#000" stroke="#000" stroke-width="0.08" textLength="11.3" lengthAdjust="spacingAndGlyphs" >D</text>
<text x="60.8" y="483.0" font-size="10.2" font-weight="normal" text-anchor="start" fill="#222" stroke="#222" stroke-width="0.224" textLength="14.2" lengthAdjust="spacingAndGlyphs" >E.V.</text>
<text x="96.3" y="483.0" font-size="10.2" font-weight="normal" text-anchor="start" fill="#222" stroke="#222" stroke-width="0.224" textLength="20.0" lengthAdjust="spacingAndGlyphs" >ICP0</text>
<text x="136.3" y="483.0" font-size="10.2" font-weight="normal" text-anchor="start" fill="#222" stroke="#222" stroke-width="0.224" textLength="15.4" lengthAdjust="spacingAndGlyphs" >FXE</text>
<text x="173.8" y="483.0" font-size="10.2" font-weight="normal" text-anchor="start" fill="#222" stroke="#222" stroke-width="0.224" textLength="13.9" lengthAdjust="spacingAndGlyphs" >M4</text>
<text x="204.6" y="481.3" font-size="10.2" font-weight="normal" text-anchor="start" fill="#222" stroke="#222" stroke-width="0.224" textLength="37.6" lengthAdjust="spacingAndGlyphs" >NLS.mut</text>
<text x="8.8" y="502.3" font-size="10.0" font-weight="normal" text-anchor="start" fill="#222" stroke="#222" stroke-width="0.22" textLength="40.0" lengthAdjust="spacingAndGlyphs" >anti-ICP0</text>
<rect x="52.00" y="485.20" width="185.50" height="29.00" fill="#ebebeb" />
<rect x="90.50" y="495.20" width="27.00" height="4.80" rx="2.40" fill="#050505" filter="url(#bl05)"/>
<rect x="129.00" y="499.20" width="28.00" height="5.20" rx="2.60" fill="#050505" filter="url(#bl05)"/>
<rect x="166.00" y="493.90" width="28.00" height="5.00" rx="2.50" fill="#050505" filter="url(#bl05)"/>
<rect x="204.50" y="493.20" width="25.00" height="4.80" rx="2.40" fill="#050505" filter="url(#bl05)"/>
<line x1="38.00" y1="518.80" x2="38.00" y2="651.50" stroke="#333" stroke-width="1.0" />
<line x1="37.50" y1="651.00" x2="243.00" y2="651.00" stroke="#333" stroke-width="1.0" />
<line x1="36.20" y1="651.00" x2="38.00" y2="651.00" stroke="#333" stroke-width="0.7" />
<text x="34.0" y="653.0" font-size="7.0" font-weight="normal" text-anchor="end" fill="#111" stroke="#111" stroke-width="0.154" >0</text>
<line x1="36.20" y1="634.60" x2="38.00" y2="634.60" stroke="#333" stroke-width="0.7" />
<text x="34.0" y="636.6" font-size="7.0" font-weight="normal" text-anchor="end" fill="#111" stroke="#111" stroke-width="0.154" >50</text>
<line x1="36.20" y1="618.20" x2="38.00" y2="618.20" stroke="#333" stroke-width="0.7" />
<text x="34.0" y="620.2" font-size="7.0" font-weight="normal" text-anchor="end" fill="#111" stroke="#111" stroke-width="0.154" >100</text>
<line x1="36.20" y1="601.80" x2="38.00" y2="601.80" stroke="#333" stroke-width="0.7" />
<text x="34.0" y="603.8" font-size="7.0" font-weight="normal" text-anchor="end" fill="#111" stroke="#111" stroke-width="0.154" >150</text>
<line x1="36.20" y1="585.40" x2="38.00" y2="585.40" stroke="#333" stroke-width="0.7" />
<text x="34.0" y="587.4" font-size="7.0" font-weight="normal" text-anchor="end" fill="#111" stroke="#111" stroke-width="0.154" >200</text>
<line x1="36.20" y1="569.00" x2="38.00" y2="569.00" stroke="#333" stroke-width="0.7" />
<text x="34.0" y="571.0" font-size="7.0" font-weight="normal" text-anchor="end" fill="#111" stroke="#111" stroke-width="0.154" >250</text>
<line x1="36.20" y1="552.60" x2="38.00" y2="552.60" stroke="#333" stroke-width="0.7" />
<text x="34.0" y="554.6" font-size="7.0" font-weight="normal" text-anchor="end" fill="#111" stroke="#111" stroke-width="0.154" >300</text>
<line x1="36.20" y1="536.20" x2="38.00" y2="536.20" stroke="#333" stroke-width="0.7" />
<text x="34.0" y="538.2" font-size="7.0" font-weight="normal" text-anchor="end" fill="#111" stroke="#111" stroke-width="0.154" >350</text>
<line x1="36.20" y1="519.80" x2="38.00" y2="519.80" stroke="#333" stroke-width="0.7" />
<text x="34.0" y="521.8" font-size="7.0" font-weight="normal" text-anchor="end" fill="#111" stroke="#111" stroke-width="0.154" >400</text>
<line x1="79.00" y1="651.00" x2="79.00" y2="652.80" stroke="#333" stroke-width="0.7" />
<line x1="120.00" y1="651.00" x2="120.00" y2="652.80" stroke="#333" stroke-width="0.7" />
<line x1="161.00" y1="651.00" x2="161.00" y2="652.80" stroke="#333" stroke-width="0.7" />
<line x1="202.00" y1="651.00" x2="202.00" y2="652.80" stroke="#333" stroke-width="0.7" />
<line x1="243.00" y1="651.00" x2="243.00" y2="652.80" stroke="#333" stroke-width="0.7" />
<text x="14.5" y="598.9" font-size="9.3" font-weight="normal" text-anchor="middle" fill="#333" stroke="#333" stroke-width="0.205" textLength="90.7" lengthAdjust="spacingAndGlyphs" transform="rotate(-90 14.5 598.9)" >Fold induction (AU)</text>
<rect x="46.95" y="566.65" width="11.20" height="84.35" fill="#ffffff" stroke="#000" stroke-width="1.3"/>
<line x1="52.55" y1="563.50" x2="52.55" y2="566.00" stroke="#000" stroke-width="1.3" />
<line x1="50.45" y1="563.50" x2="54.65" y2="563.50" stroke="#000" stroke-width="1.3" />
<rect x="59.30" y="541.70" width="11.00" height="109.30" fill="#050505" stroke="#000" stroke-width="1.0"/>
<line x1="64.80" y1="537.50" x2="64.80" y2="541.20" stroke="#000" stroke-width="1.3" />
<line x1="62.70" y1="537.50" x2="66.90" y2="537.50" stroke="#000" stroke-width="1.3" />
<rect x="88.15" y="641.65" width="10.00" height="9.35" fill="#ffffff" stroke="#000" stroke-width="1.3"/>
<line x1="93.15" y1="640.30" x2="93.15" y2="641.00" stroke="#000" stroke-width="1.3" />
<line x1="91.05" y1="640.30" x2="95.25" y2="640.30" stroke="#000" stroke-width="1.3" />
<rect x="99.30" y="631.50" width="11.00" height="19.50" fill="#050505" stroke="#000" stroke-width="1.0"/>
<line x1="104.80" y1="630.30" x2="104.80" y2="631.00" stroke="#000" stroke-width="1.3" />
<line x1="102.70" y1="630.30" x2="106.90" y2="630.30" stroke="#000" stroke-width="1.3" />
<rect x="128.35" y="633.65" width="11.00" height="17.35" fill="#ffffff" stroke="#000" stroke-width="1.3"/>
<line x1="133.85" y1="632.00" x2="133.85" y2="633.00" stroke="#000" stroke-width="1.3" />
<line x1="131.75" y1="632.00" x2="135.95" y2="632.00" stroke="#000" stroke-width="1.3" />
<rect x="140.50" y="625.50" width="10.70" height="25.50" fill="#050505" stroke="#000" stroke-width="1.0"/>
<line x1="145.85" y1="623.50" x2="145.85" y2="625.00" stroke="#000" stroke-width="1.3" />
<line x1="143.75" y1="623.50" x2="147.95" y2="623.50" stroke="#000" stroke-width="1.3" />
<rect x="168.95" y="608.85" width="11.00" height="42.15" fill="#ffffff" stroke="#000" stroke-width="1.3"/>
<line x1="174.45" y1="607.00" x2="174.45" y2="608.20" stroke="#000" stroke-width="1.3" />
<line x1="172.35" y1="607.00" x2="176.55" y2="607.00" stroke="#000" stroke-width="1.3" />
<rect x="181.10" y="562.30" width="10.70" height="88.70" fill="#050505" stroke="#000" stroke-width="1.0"/>
<line x1="186.45" y1="559.60" x2="186.45" y2="561.80" stroke="#000" stroke-width="1.3" />
<line x1="184.35" y1="559.60" x2="188.55" y2="559.60" stroke="#000" stroke-width="1.3" />
<rect x="209.85" y="602.75" width="11.00" height="48.25" fill="#ffffff" stroke="#000" stroke-width="1.3"/>
<line x1="215.35" y1="601.30" x2="215.35" y2="602.10" stroke="#000" stroke-width="1.3" />
<line x1="213.25" y1="601.30" x2="217.45" y2="601.30" stroke="#000" stroke-width="1.3" />
<rect x="222.00" y="586.30" width="11.30" height="64.70" fill="#050505" stroke="#000" stroke-width="1.0"/>
<line x1="227.65" y1="582.70" x2="227.65" y2="585.80" stroke="#000" stroke-width="1.3" />
<line x1="225.55" y1="582.70" x2="229.75" y2="582.70" stroke="#000" stroke-width="1.3" />
<text x="58.5" y="663.1" font-size="7.6" font-weight="normal" text-anchor="middle" fill="#1a1a1a" stroke="#1a1a1a" stroke-width="0.167" textLength="11.5" lengthAdjust="spacingAndGlyphs" >E.V.</text>
<text x="98.7" y="663.1" font-size="7.6" font-weight="normal" text-anchor="middle" fill="#1a1a1a" stroke="#1a1a1a" stroke-width="0.167" textLength="15.0" lengthAdjust="spacingAndGlyphs" >ICP0</text>
<text x="140.6" y="662.4" font-size="7.6" font-weight="normal" text-anchor="middle" fill="#1a1a1a" stroke="#1a1a1a" stroke-width="0.167" textLength="28.2" lengthAdjust="spacingAndGlyphs" >ICP0-FXE</text>
<text x="182.0" y="662.5" font-size="7.6" font-weight="normal" text-anchor="middle" fill="#1a1a1a" stroke="#1a1a1a" stroke-width="0.167" textLength="27.5" lengthAdjust="spacingAndGlyphs" >ICP0-M4</text>
<text x="222.1" y="662.5" font-size="7.6" font-weight="normal" text-anchor="middle" fill="#1a1a1a" stroke="#1a1a1a" stroke-width="0.167" textLength="15.4" lengthAdjust="spacingAndGlyphs" >ICP0</text>
<text x="223.1" y="670.8" font-size="7.6" font-weight="normal" text-anchor="middle" fill="#1a1a1a" stroke="#1a1a1a" stroke-width="0.167" textLength="28.8" lengthAdjust="spacingAndGlyphs" >NLS.MUT</text>
<text x="116.4" y="533.9" font-size="9.8" font-weight="bold" text-anchor="start" fill="#1a1a1a" stroke="#1a1a1a" stroke-width="0.08" textLength="22.1" lengthAdjust="spacingAndGlyphs" >TLR4</text>
<rect x="211.70" y="526.50" width="3.40" height="3.00" fill="#fff" stroke="#333" stroke-width="0.8" />
<rect x="211.50" y="535.80" width="3.50" height="3.40" fill="#000" />
<text x="217.3" y="530.0" font-size="7.0" font-weight="bold" text-anchor="start" fill="#1a1a1a" stroke="#1a1a1a" stroke-width="0.08" textLength="17.3" lengthAdjust="spacingAndGlyphs" >TNF-α</text>
<text x="217.3" y="539.6" font-size="7.0" font-weight="bold" text-anchor="start" fill="#1a1a1a" stroke="#1a1a1a" stroke-width="0.08" textLength="8.1" lengthAdjust="spacingAndGlyphs" >IL8</text>
<line x1="309.20" y1="514.30" x2="309.20" y2="656.30" stroke="#333" stroke-width="1.0" />
<line x1="308.70" y1="655.80" x2="520.00" y2="655.80" stroke="#333" stroke-width="1.0" />
<line x1="307.40" y1="655.80" x2="309.20" y2="655.80" stroke="#333" stroke-width="0.7" />
<text x="302.2" y="657.8" font-size="6.8" font-weight="normal" text-anchor="end" fill="#111" stroke="#111" stroke-width="0.15" >0</text>
<line x1="307.40" y1="632.35" x2="309.20" y2="632.35" stroke="#333" stroke-width="0.7" />
<text x="302.2" y="634.3499999999999" font-size="6.8" font-weight="normal" text-anchor="end" fill="#111" stroke="#111" stroke-width="0.15" >10</text>
<line x1="307.40" y1="608.90" x2="309.20" y2="608.90" stroke="#333" stroke-width="0.7" />
<text x="302.2" y="610.9" font-size="6.8" font-weight="normal" text-anchor="end" fill="#111" stroke="#111" stroke-width="0.15" >20</text>
<line x1="307.40" y1="585.45" x2="309.20" y2="585.45" stroke="#333" stroke-width="0.7" />
<text x="302.2" y="587.4499999999999" font-size="6.8" font-weight="normal" text-anchor="end" fill="#111" stroke="#111" stroke-width="0.15" >30</text>
<line x1="307.40" y1="562.00" x2="309.20" y2="562.00" stroke="#333" stroke-width="0.7" />
<text x="302.2" y="564.0" font-size="6.8" font-weight="normal" text-anchor="end" fill="#111" stroke="#111" stroke-width="0.15" >40</text>
<line x1="307.40" y1="538.55" x2="309.20" y2="538.55" stroke="#333" stroke-width="0.7" />
<text x="302.2" y="540.55" font-size="6.8" font-weight="normal" text-anchor="end" fill="#111" stroke="#111" stroke-width="0.15" >50</text>
<line x1="307.40" y1="515.10" x2="309.20" y2="515.10" stroke="#333" stroke-width="0.7" />
<text x="302.2" y="517.0999999999999" font-size="6.8" font-weight="normal" text-anchor="end" fill="#111" stroke="#111" stroke-width="0.15" >60</text>
<line x1="351.00" y1="655.80" x2="351.00" y2="657.60" stroke="#333" stroke-width="0.7" />
<line x1="392.80" y1="655.80" x2="392.80" y2="657.60" stroke="#333" stroke-width="0.7" />
<line x1="434.60" y1="655.80" x2="434.60" y2="657.60" stroke="#333" stroke-width="0.7" />
<line x1="476.40" y1="655.80" x2="476.40" y2="657.60" stroke="#333" stroke-width="0.7" />
<text x="278.0" y="589.0" font-size="8.7" font-weight="normal" text-anchor="middle" fill="#333" stroke="#333" stroke-width="0.191" textLength="86.8" lengthAdjust="spacingAndGlyphs" transform="rotate(-90 278.0 589.0)" >Fold induction (AU)</text>
<rect x="318.35" y="541.55" width="10.90" height="114.25" fill="#ffffff" stroke="#000" stroke-width="1.3"/>
<line x1="323.80" y1="537.30" x2="323.80" y2="540.90" stroke="#000" stroke-width="1.2" />
<line x1="321.80" y1="537.30" x2="325.80" y2="537.30" stroke="#000" stroke-width="1.2" />
<rect x="330.40" y="533.60" width="11.30" height="122.20" fill="#050505" stroke="#000" stroke-width="1.0"/>
<line x1="336.05" y1="529.20" x2="336.05" y2="533.10" stroke="#000" stroke-width="1.2" />
<line x1="334.05" y1="529.20" x2="338.05" y2="529.20" stroke="#000" stroke-width="1.2" />
<rect x="359.75" y="632.75" width="11.20" height="23.05" fill="#ffffff" stroke="#000" stroke-width="1.3"/>
<line x1="365.35" y1="630.60" x2="365.35" y2="632.10" stroke="#000" stroke-width="1.2" />
<line x1="363.35" y1="630.60" x2="367.35" y2="630.60" stroke="#000" stroke-width="1.2" />
<rect x="372.10" y="644.60" width="11.50" height="11.20" fill="#050505" stroke="#000" stroke-width="1.0"/>
<line x1="377.85" y1="643.00" x2="377.85" y2="644.10" stroke="#000" stroke-width="1.2" />
<line x1="375.85" y1="643.00" x2="379.85" y2="643.00" stroke="#000" stroke-width="1.2" />
<rect x="402.15" y="571.15" width="10.90" height="84.65" fill="#ffffff" stroke="#000" stroke-width="1.3"/>
<line x1="407.60" y1="567.90" x2="407.60" y2="570.50" stroke="#000" stroke-width="1.2" />
<line x1="405.60" y1="567.90" x2="409.60" y2="567.90" stroke="#000" stroke-width="1.2" />
<rect x="414.20" y="580.70" width="11.10" height="75.10" fill="#050505" stroke="#000" stroke-width="1.0"/>
<line x1="419.75" y1="577.50" x2="419.75" y2="580.20" stroke="#000" stroke-width="1.2" />
<line x1="417.75" y1="577.50" x2="421.75" y2="577.50" stroke="#000" stroke-width="1.2" />
<rect x="443.15" y="625.35" width="11.60" height="30.45" fill="#ffffff" stroke="#000" stroke-width="1.3"/>
<line x1="448.95" y1="622.00" x2="448.95" y2="624.70" stroke="#000" stroke-width="1.2" />
<line x1="446.95" y1="622.00" x2="450.95" y2="622.00" stroke="#000" stroke-width="1.2" />
<rect x="455.90" y="635.90" width="11.10" height="19.90" fill="#050505" stroke="#000" stroke-width="1.0"/>
<line x1="461.45" y1="632.70" x2="461.45" y2="635.40" stroke="#000" stroke-width="1.2" />
<line x1="459.45" y1="632.70" x2="463.45" y2="632.70" stroke="#000" stroke-width="1.2" />
<rect x="485.65" y="580.05" width="10.80" height="75.75" fill="#ffffff" stroke="#000" stroke-width="1.3"/>
<line x1="491.05" y1="578.00" x2="491.05" y2="579.40" stroke="#000" stroke-width="1.2" />
<line x1="489.05" y1="578.00" x2="493.05" y2="578.00" stroke="#000" stroke-width="1.2" />
<rect x="497.60" y="602.80" width="11.70" height="53.00" fill="#050505" stroke="#000" stroke-width="1.0"/>
<line x1="503.45" y1="600.20" x2="503.45" y2="602.30" stroke="#000" stroke-width="1.2" />
<line x1="501.45" y1="600.20" x2="505.45" y2="600.20" stroke="#000" stroke-width="1.2" />
<text x="332.2" y="666.3" font-size="7.6" font-weight="normal" text-anchor="middle" fill="#222" stroke="#222" stroke-width="0.167" textLength="12.3" lengthAdjust="spacingAndGlyphs" >E.V.</text>
<text x="369.9" y="666.3" font-size="7.6" font-weight="normal" text-anchor="middle" fill="#222" stroke="#222" stroke-width="0.167" textLength="14.8" lengthAdjust="spacingAndGlyphs" >ICP0</text>
<text x="415.3" y="666.4" font-size="7.6" font-weight="normal" text-anchor="middle" fill="#222" stroke="#222" stroke-width="0.167" textLength="31.8" lengthAdjust="spacingAndGlyphs" >ICP0-FXE</text>
<text x="458.1" y="666.4" font-size="7.6" font-weight="normal" text-anchor="middle" fill="#222" stroke="#222" stroke-width="0.167" textLength="29.6" lengthAdjust="spacingAndGlyphs" >ICP0-M4</text>
<text x="496.8" y="665.8" font-size="7.6" font-weight="normal" text-anchor="middle" fill="#222" stroke="#222" stroke-width="0.167" textLength="16.0" lengthAdjust="spacingAndGlyphs" >ICP0.</text>
<text x="488.5" y="676.0" font-size="7.6" font-weight="normal" text-anchor="start" fill="#222" stroke="#222" stroke-width="0.167" >NLS.mut</text>
<text x="407.7" y="524.3" font-size="10.0" font-weight="bold" text-anchor="start" fill="#1a1a1a" stroke="#1a1a1a" stroke-width="0.08" textLength="21.4" lengthAdjust="spacingAndGlyphs" >RIG-I</text>
<rect x="480.40" y="512.70" width="3.40" height="4.20" fill="#fff" stroke="#444" stroke-width="0.8" />
<rect x="480.00" y="525.40" width="4.20" height="6.10" fill="#000" />
<text x="485.8" y="517.7" font-size="8.0" font-weight="normal" text-anchor="start" fill="#1a1a1a" stroke="#1a1a1a" stroke-width="0.176" textLength="12.3" lengthAdjust="spacingAndGlyphs" >IP10</text>
<text x="485.8" y="530.4" font-size="8.0" font-weight="normal" text-anchor="start" fill="#1a1a1a" stroke="#1a1a1a" stroke-width="0.176" textLength="16.9" lengthAdjust="spacingAndGlyphs" >IFN-β</text>
</svg></body></html>
